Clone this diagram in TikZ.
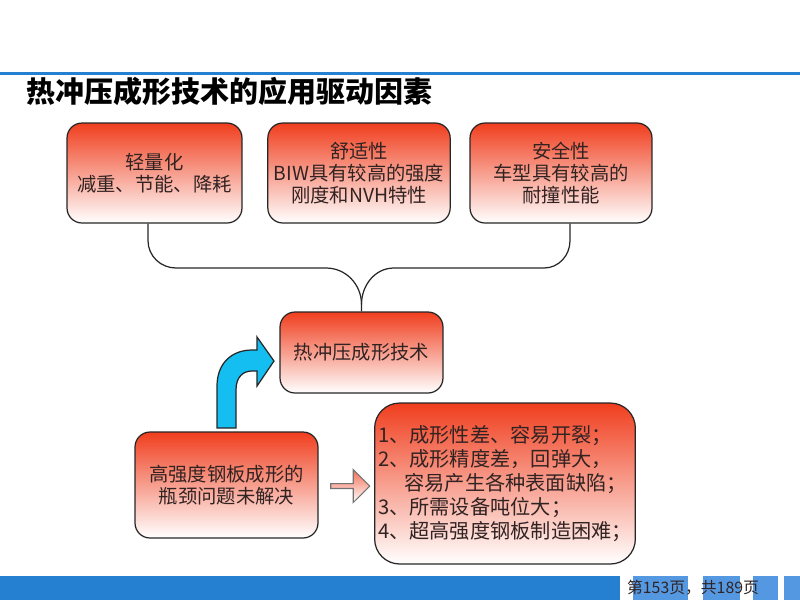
\documentclass[tikz,border=0pt]{standalone}
\usepackage{fontspec}
\setmainfont{Noto Sans CJK SC}
\usetikzlibrary{shapes.arrows, positioning}
\definecolor{barblue}{RGB}{38,128,210}
\definecolor{pageblue}{RGB}{84,152,226}
\definecolor{boxred}{RGB}{240,62,30}
\definecolor{turnblue}{RGB}{20,190,240}
\definecolor{inkdark}{RGB}{50,35,35}
\tikzset{
    factor/.style={rectangle, rounded corners=0.3cm, draw=black!85, line width=0.7pt,
                   top color=boxred, middle color=boxred!45!white, bottom color=white,
                   text=inkdark, align=center, font=\fontsize{11}{12.7}\selectfont,
                   minimum width=3.64cm, minimum height=2cm},
    link/.style={draw=black!85, line width=0.7pt},
    push/.style={single arrow, draw=black!55, line width=0.6pt, top color=boxred!75!white,
                 bottom color=white, minimum height=0.78cm, minimum width=0.66cm,
                 single arrow head extend=0.06cm, inner sep=0pt}
}

\begin{document}
\begin{tikzpicture}[x=0.02cm, y=-0.02cm]
    \useasboundingbox (0,0) rectangle (800,600);

    % header
    \fill[barblue] (0,71.5) rectangle (800,74.5);
    \node[anchor=west, font=\bfseries\fontsize{16.5}{18}\selectfont] (title) at (20,91)
        {热冲压成形技术的应用驱动因素};

    % drivers
    \node[factor, minimum width=3.5cm] (light) at (154.5,173) {轻量化\\减重、节能、降耗};
    \node[factor] (comfort) at (359,173) {舒适性\\BIW具有较高的强度\\刚度和NVH特性};
    \node[factor] (safety) at (561,173) {安全性\\车型具有较高的\\耐撞性能};

    % hot stamping
    \node[factor, minimum width=3.26cm, minimum height=1.62cm] (core) at (361.5,352.5)
        {热冲压成形技术};

    % bottleneck
    \node[factor, minimum width=3.66cm, minimum height=2.12cm] (neck) at (226.5,485)
        {高强度钢板成形的\\瓶颈问题未解决};
    \node[factor, rounded corners=0.5cm, minimum width=5.16cm, minimum height=3.22cm,
          inner xsep=2pt, align=left, font=\fontsize{11.5}{13.6}\selectfont] (issues) at (505,483.5)
        {1、成形性差、容易开裂；\\2、成形精度差，回弹大，\\\hspace*{1.3em}容易产生各种表面缺陷；\\3、所需设备吨位大；\\4、超高强度钢板制造困难；};

    % brace into the core box
    \coordinate (meet) at ([yshift=0.14cm]core.north);
    \draw[link] ([xshift=-0.13cm]light.south) -- ++(0,17)
        to[out=-90, in=180] (176,268) -- (326,268) to[out=0, in=90] (meet) -- (core.north);
    \draw[link] ([xshift=0.18cm]safety.south) -- ++(0,17)
        to[out=-90, in=0] (544,268) -- (394,268) to[out=180, in=90] (meet);

    % turn arrow
    \filldraw[fill=turnblue, draw=black!85, line width=0.7pt]
        (217,428) -- (217,386) .. controls (217,363) and (232,350) .. (252,350)
        -- (257,350) -- (257,337) -- (274,361) -- (257,386) -- (257,371) -- (252,371)
        .. controls (243,371) and (236,377) .. (236,390) -- (236,428) -- cycle;

    % push arrow
    \node[push] (hint) at (349,486) {};

    % footer
    \fill[barblue] (0,576) rectangle (620,600);
    \fill[pageblue] (633,576) rectangle (688,600);
    \fill[pageblue] (703,576) rectangle (740,600);
    \fill[pageblue] (753,576) rectangle (778,600);
    \fill[pageblue] (784,576) rectangle (800,600);
    \node[font=\fontsize{9}{10}\selectfont, text=inkdark] (page) at (693,588)
        {第153页，共189页};
\end{tikzpicture}
\end{document}
